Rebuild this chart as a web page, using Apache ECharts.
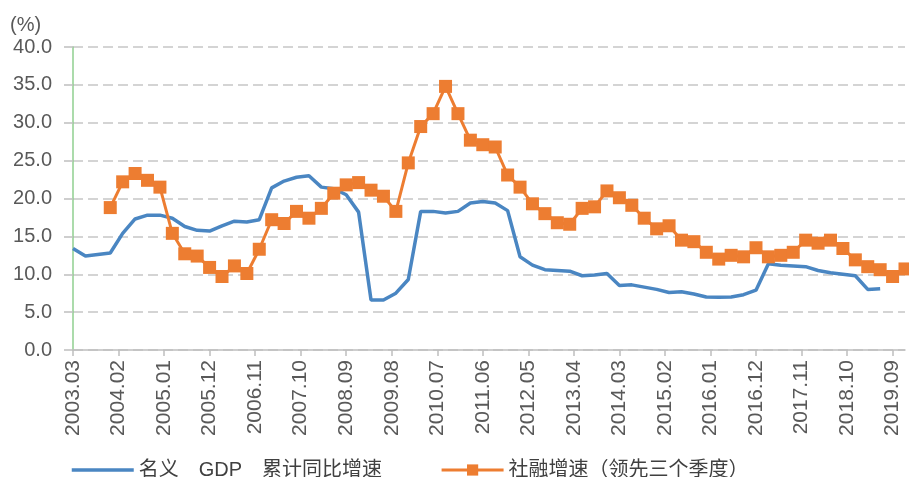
<!DOCTYPE html>
<html><head><meta charset="utf-8">
<script src="https://cdn.jsdelivr.net/npm/echarts@6/dist/echarts.min.js"></script>
<style>html,body{margin:0;padding:0;background:#fff}#c{width:909px;height:477px}</style>
</head><body><div id="c"></div>
<script>
// monthly category axis from 2003.03 to 2019.12
const startYear = 2003, startMonth = 3, endYear = 2019, endMonth = 12;
const categories = [];
for (let y = startYear, m = startMonth; y < endYear || (y === endYear && m <= endMonth); ) {
  categories.push(y + '.' + String(m).padStart(2, '0'));
  m++; if (m > 12) { m = 1; y++; }
}
const yTicks = [0, 5, 10, 15, 20, 25, 30, 35, 40];

// 名义GDP累计同比增速, quarterly from 2003.03 to 2019.06
const gdpDates = ['2003.03','2003.06','2003.09','2003.12','2004.03','2004.06','2004.09','2004.12','2005.03','2005.06','2005.09','2005.12','2006.03','2006.06','2006.09','2006.12','2007.03','2007.06','2007.09','2007.12','2008.03','2008.06','2008.09','2008.12','2009.03','2009.06','2009.09','2009.12','2010.03','2010.06','2010.09','2010.12','2011.03','2011.06','2011.09','2011.12','2012.03','2012.06','2012.09','2012.12','2013.03','2013.06','2013.09','2013.12','2014.03','2014.06','2014.09','2014.12','2015.03','2015.06','2015.09','2015.12','2016.03','2016.06','2016.09','2016.12','2017.03','2017.06','2017.09','2017.12','2018.03','2018.06','2018.09','2018.12','2019.03','2019.06'];
const gdpValues = [13.4,12.4,12.6,12.8,15.4,17.3,17.8,17.8,17.4,16.3,15.8,15.7,16.4,17.0,16.9,17.2,21.4,22.3,22.8,23.0,21.5,21.3,20.5,18.2,6.6,6.6,7.5,9.3,18.3,18.3,18.1,18.3,19.4,19.6,19.4,18.4,12.3,11.2,10.6,10.5,10.4,9.8,9.9,10.1,8.5,8.6,8.3,8.0,7.6,7.7,7.4,7.0,6.95,7.0,7.3,7.9,11.4,11.2,11.1,11.0,10.5,10.2,10.0,9.8,8.0,8.1];

// 社融增速（领先三个季度）, quarterly from 2003.12 to 2019.12
const tsfDates = ['2003.12','2004.03','2004.06','2004.09','2004.12','2005.03','2005.06','2005.09','2005.12','2006.03','2006.06','2006.09','2006.12','2007.03','2007.06','2007.09','2007.12','2008.03','2008.06','2008.09','2008.12','2009.03','2009.06','2009.09','2009.12','2010.03','2010.06','2010.09','2010.12','2011.03','2011.06','2011.09','2011.12','2012.03','2012.06','2012.09','2012.12','2013.03','2013.06','2013.09','2013.12','2014.03','2014.06','2014.09','2014.12','2015.03','2015.06','2015.09','2015.12','2016.03','2016.06','2016.09','2016.12','2017.03','2017.06','2017.09','2017.12','2018.03','2018.06','2018.09','2018.12','2019.03','2019.06','2019.09','2019.12'];
const tsfValues = [18.8,22.2,23.3,22.4,21.5,15.4,12.7,12.4,10.9,9.7,11.1,10.1,13.3,17.2,16.7,18.3,17.4,18.7,20.7,21.8,22.1,21.1,20.3,18.3,24.7,29.5,31.2,34.8,31.2,27.7,27.1,26.8,23.1,21.5,19.3,18.0,16.8,16.6,18.7,18.9,21.0,20.1,19.1,17.4,16.0,16.4,14.5,14.3,12.9,12.0,12.5,12.3,13.5,12.3,12.5,12.9,14.5,14.1,14.5,13.4,11.9,11.0,10.6,9.7,10.7];

const seriesNames = ['名义\u3000GDP\u3000累计同比增速', '社融增速（领先三个季度）'];

const font = "'Liberation Sans','Noto Sans CJK SC',sans-serif";
const chart = echarts.init(document.getElementById('c'), null, {renderer: 'canvas'});
chart.setOption({
  animation: false,
  backgroundColor: '#ffffff',
  textStyle: {fontFamily: font},
  grid: {left: 73, right: 4, top: 47, bottom: 127, containLabel: false},
  graphic: [{type: 'text', left: 10, top: 15, style: {text: '(%)', fontSize: 20, fill: '#595959', fontFamily: font}}],
  legend: {
    left: 65, top: 455, itemGap: 58, itemWidth: 62, itemHeight: 14,
    textStyle: {fontSize: 20, color: '#404040', fontFamily: font},
    data: [
      {name: seriesNames[0], itemStyle: {opacity: 0}, lineStyle: {width: 3.5, color: '#4a86c2'}},
      {name: seriesNames[1], lineStyle: {width: 3, color: '#ed7d31'}}
    ]
  },
  xAxis: {
    type: 'category', data: categories, boundaryGap: false,
    axisLine: {lineStyle: {color: '#bfbfbf', width: 1.5}},
    axisTick: {interval: 10, length: 6, lineStyle: {color: '#bfbfbf', width: 1.5}},
    axisLabel: {interval: 10, rotate: 90, margin: 10, fontSize: 21, color: '#595959', fontFamily: font},
    splitLine: {show: false}
  },
  yAxis: {
    type: 'value', min: yTicks[0], max: yTicks[yTicks.length - 1], interval: 5,
    axisLine: {show: true, lineStyle: {color: '#8fcf8f', width: 1.5}},
    axisTick: {show: true, length: 9, lineStyle: {color: '#bfbfbf', width: 1.5}},
    axisLabel: {margin: 21, fontSize: 20, color: '#595959', fontFamily: font, formatter: v => v.toFixed(1)},
    splitLine: {show: true, lineStyle: {color: '#c6c6c6', width: 1.5, type: [10, 5]}}
  },
  series: [
    {
      name: seriesNames[0], type: 'line', symbol: 'none',
      data: gdpDates.map((d, i) => [d, gdpValues[i]]),
      lineStyle: {color: '#4a86c2', width: 3.5}, itemStyle: {color: '#4a86c2'}, z: 2
    },
    {
      name: seriesNames[1], type: 'line', symbol: 'rect', symbolSize: 13, showAllSymbol: true,
      data: tsfDates.map((d, i) => [d, tsfValues[i]]),
      lineStyle: {color: '#ed7d31', width: 3}, itemStyle: {color: '#ed7d31'}, z: 3
    }
  ]
});
</script></body></html>
